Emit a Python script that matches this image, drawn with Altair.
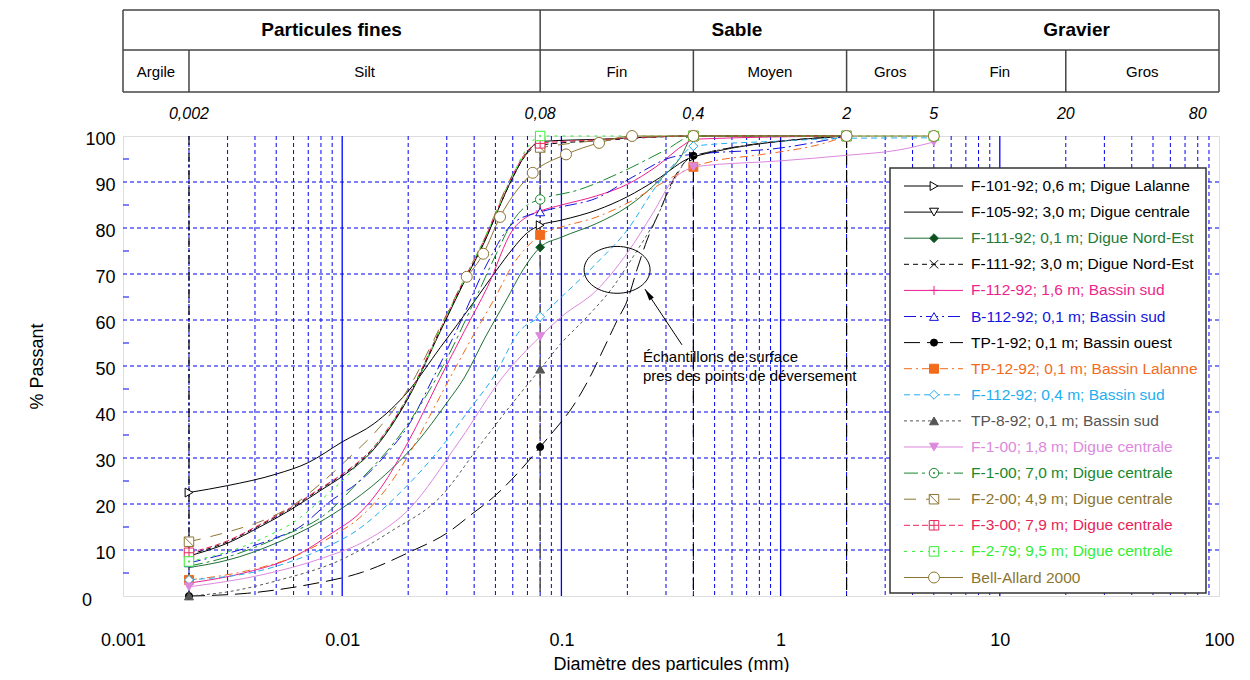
import altair as alt
import pandas as pd

W, H = 1096, 460
FONT = "Liberation Sans"

# ---------------- axes / grid values ----------------
X_TICKS = [0.001, 0.01, 0.1, 1, 10, 100]
Y_TICKS = [10, 20, 30, 40, 50, 60, 70, 80, 90, 100]
Y_ZERO = [0]
Y_MINOR = [5, 15, 25, 35, 45, 55, 65, 75, 85, 95]
GRID_Y = [10, 20, 30, 40, 50, 60, 70, 80, 90]
GRID_X_MAJOR = [0.01, 0.1, 1, 10]
GRID_X_MINOR = [round(k * 10 ** e, 6) for e in range(-3, 2) for k in range(2, 10)]
BOUNDS = [0.002, 0.08, 0.4, 2]

# ---------------- header table ----------------
HDR_TOP = ["Particules fines", "Sable", "Gravier"]
HDR_TOP_X = [0.00894, 0.632, 22.4]
HDR_SUB = ["Argile", "Silt", "Fin", "Moyen", "Gros", "Fin", "Gros"]
HDR_SUB_X = [0.001414, 0.01265, 0.179, 0.894, 3.16, 10.0, 44.7]
HDR_FULL_DIV = [0.001, 0.08, 5, 100]
HDR_SUB_DIV = [0.002, 0.4, 2, 20]
EDGE_X = [0.002, 0.08, 0.4, 2, 5, 20, 80]
EDGE_LABELS = ["0,002", "0,08", "0,4", "2", "5", "20", "80"]

# ---------------- series ----------------
NAMES = [
    "F-101-92; 0,6 m; Digue Lalanne",
    "F-105-92; 3,0 m; Digue centrale",
    "F-111-92; 0,1 m; Digue Nord-Est",
    "F-111-92; 3,0 m; Digue Nord-Est",
    "F-112-92; 1,6 m; Bassin sud",
    "B-112-92; 0,1 m; Bassin sud",
    "TP-1-92; 0,1 m; Bassin ouest",
    "TP-12-92; 0,1 m; Bassin Lalanne",
    "F-112-92; 0,4 m; Bassin sud",
    "TP-8-92; 0,1 m; Bassin sud",
    "F-1-00; 1,8 m; Digue centrale",
    "F-1-00; 7,0 m; Digue centrale",
    "F-2-00; 4,9 m; Digue centrale",
    "F-3-00; 7,9 m; Digue centrale",
    "F-2-79; 9,5 m; Digue centrale",
    "Bell-Allard 2000",
]

X1 = [0.002, 0.003, 0.005, 0.007, 0.01, 0.014, 0.02, 0.028, 0.04, 0.05, 0.06, 0.07, 0.08, 0.1, 0.145, 0.2, 0.27, 0.4, 2]
Y1 = [22.5, 24.0, 26.5, 29.0, 33.5, 37.5, 44.5, 54.0, 64.0, 70.5, 75.5, 79.0, 80.6, 81.7, 83.9, 86.8, 90.4, 95.5, 100]
M1 = [0.002, 0.08, 0.4, 2]

X2 = [0.002, 0.003, 0.0042, 0.0058, 0.008, 0.01, 0.014, 0.02, 0.028, 0.037, 0.045, 0.052, 0.06, 0.07, 0.08, 0.15, 0.4, 2]
Y2 = [8.7, 11.5, 15.0, 18.7, 23.0, 26.0, 32.0, 43.0, 57.5, 69.4, 77.4, 84.5, 91.0, 96.5, 98.8, 99.3, 100, 100]
M2 = [0.002, 0.08, 0.4, 2]

X3 = [0.002, 0.003, 0.005, 0.01, 0.015, 0.022, 0.03, 0.036, 0.045, 0.056, 0.067, 0.08, 0.1, 0.145, 0.2, 0.28, 0.35, 0.4, 2]
Y3 = [6.2, 7.8, 11.5, 19.1, 25.5, 33.5, 42.0, 47.4, 56.3, 64.3, 71.0, 75.8, 78.0, 81.0, 84.6, 90.4, 95.4, 100, 100]
M3 = [0.08, 0.4, 2]

X4 = [0.002, 0.003, 0.0042, 0.0058, 0.008, 0.01, 0.014, 0.02, 0.028, 0.037, 0.045, 0.052, 0.06, 0.07, 0.08, 0.15, 0.4, 2]
Y4 = [9.0, 11.8, 15.3, 19.0, 23.3, 26.3, 32.3, 43.3, 57.8, 69.6, 77.6, 84.5, 91.0, 96.3, 98.0, 99.0, 100, 100]
M4 = [0.002, 0.08, 0.4, 2]

X5 = [0.002, 0.0037, 0.006, 0.009, 0.012, 0.015, 0.02, 0.028, 0.036, 0.046, 0.06, 0.07, 0.08, 0.1, 0.145, 0.2, 0.27, 0.37, 0.4, 2]
Y5 = [2.8, 5.2, 8.5, 13.7, 18.0, 23.5, 33.5, 47.4, 57.5, 67.2, 79.6, 82.5, 83.7, 85.0, 87.0, 89.5, 93.3, 98.4, 99.3, 100]
M5 = [0.002, 0.08, 0.4, 2]

X6 = [0.002, 0.0026, 0.0047, 0.0063, 0.009, 0.0117, 0.016, 0.02, 0.026, 0.035, 0.046, 0.06, 0.08, 0.1, 0.145, 0.21, 0.32, 0.4, 1, 2]
Y6 = [7.2, 8.5, 12.2, 14.8, 20.9, 24.5, 31.0, 37.0, 47.4, 60.0, 72.4, 81.0, 83.5, 84.6, 86.5, 91.0, 95.4, 96.0, 97.4, 100]
M6 = [0.002, 0.08, 2]

X7 = [0.002, 0.0037, 0.0069, 0.0124, 0.0204, 0.0301, 0.0395, 0.049, 0.07, 0.08, 0.0916, 0.112, 0.135, 0.155, 0.18, 0.2, 0.221, 0.246, 0.282, 0.323, 0.374, 0.4, 2]
Y7 = [0, 0.6, 2.4, 5.2, 9.6, 13.7, 18.0, 21.5, 29.1, 32.4, 35.7, 41.0, 47.6, 53.5, 60.0, 64.3, 70.9, 77.4, 83.9, 90.4, 94.8, 95.7, 100]
M7 = [0.002, 0.08, 0.4, 2]

X8 = [0.002, 0.0037, 0.006, 0.009, 0.012, 0.016, 0.02, 0.025, 0.031, 0.04, 0.05, 0.06, 0.07, 0.08, 0.1, 0.145, 0.2, 0.27, 0.37, 0.4, 0.5, 0.8, 1.6, 2]
Y8 = [3.5, 5.5, 8.5, 13.0, 17.0, 23.5, 30.5, 39.0, 47.4, 57.0, 65.0, 72.0, 76.0, 78.5, 80.2, 82.4, 85.4, 89.0, 92.6, 93.3, 94.6, 95.9, 98.5, 100]
M8 = [0.002, 0.08, 0.4, 2]

X9 = [0.002, 0.0043, 0.0079, 0.0117, 0.017, 0.0288, 0.038, 0.049, 0.065, 0.08, 0.1, 0.145, 0.2, 0.27, 0.35, 0.4, 1, 2, 5]
Y9 = [3.5, 5.6, 10.0, 14.3, 20.9, 32.8, 40.5, 47.6, 57.8, 60.7, 65.0, 72.4, 79.6, 89.0, 95.4, 97.8, 98.9, 99.5, 99.6]
M9 = [0.002, 0.08, 0.4]

X10 = [0.002, 0.003, 0.0052, 0.0098, 0.017, 0.028, 0.0425, 0.06, 0.08, 0.1, 0.131, 0.172, 0.212, 0.273, 0.322, 0.374, 0.4, 2]
Y10 = [0, 0.9, 3.5, 7.8, 14.3, 21.5, 32.8, 42.0, 49.3, 55.0, 60.7, 67.2, 73.7, 82.4, 89.8, 94.8, 95.7, 100]
M10 = [0.002, 0.08, 2]

X11 = [0.002, 0.0043, 0.0082, 0.013, 0.02, 0.0345, 0.054, 0.08, 0.1, 0.145, 0.2, 0.262, 0.322, 0.386, 0.4, 1, 2, 3.5, 5]
Y11 = [2.0, 4.6, 8.3, 12.2, 18.7, 33.9, 47.6, 56.4, 60.7, 66.5, 74.6, 83.3, 90.4, 93.0, 93.3, 94.6, 95.8, 97.0, 98.7]
M11 = [0.002, 0.08, 0.4, 5]

X12 = [0.002, 0.003, 0.005, 0.0085, 0.0117, 0.019, 0.029, 0.04, 0.05, 0.06, 0.07, 0.08, 0.12, 0.185, 0.3, 0.4, 2]
Y12 = [6.5, 8.5, 12.5, 18.0, 24.5, 36.0, 50.2, 64.0, 74.0, 81.5, 85.0, 86.2, 88.3, 92.0, 97.0, 100, 100]
M12 = [0.08, 0.4, 2]

X13 = [0.002, 0.0032, 0.0044, 0.006, 0.008, 0.0105, 0.015, 0.02, 0.028, 0.037, 0.045, 0.055, 0.065, 0.08, 0.4, 2]
Y13 = [11.8, 14.3, 16.5, 19.8, 24.5, 29.6, 37.0, 45.0, 58.5, 70.0, 78.0, 88.0, 94.5, 97.5, 100, 100]
M13 = [0.002, 0.08, 0.4, 2]

X14 = [0.002, 0.003, 0.0042, 0.0058, 0.008, 0.01, 0.014, 0.02, 0.028, 0.037, 0.045, 0.052, 0.06, 0.07, 0.08, 0.15, 0.4, 2]
Y14 = [9.4, 12.0, 15.5, 19.2, 23.5, 26.5, 32.5, 43.5, 58.0, 70.0, 78.0, 85.0, 91.5, 96.8, 98.4, 99.2, 100, 100]
M14 = [0.002, 0.08, 0.4, 2]

X15 = [0.002, 0.0032, 0.0045, 0.0062, 0.0077, 0.0112, 0.016, 0.022, 0.03, 0.04, 0.05, 0.06, 0.07, 0.08, 0.4, 2, 5]
Y15 = [7.5, 10.0, 12.9, 16.5, 20.2, 27.4, 36.0, 47.0, 61.0, 73.0, 83.0, 91.5, 97.5, 100, 100, 100, 100]
M15 = [0.002, 0.08, 0.4, 2, 5]

X16 = [0.037, 0.044, 0.0525, 0.074, 0.105, 0.1485, 0.21, 0.4, 2, 5]
Y16 = [69.4, 74.4, 82.4, 92.0, 96.0, 98.5, 100, 100, 100, 100]
M16 = X16

SX = [X1, X2, X3, X4, X5, X6, X7, X8, X9, X10, X11, X12, X13, X14, X15, X16]
SY = [Y1, Y2, Y3, Y4, Y5, Y6, Y7, Y8, Y9, Y10, Y11, Y12, Y13, Y14, Y15, Y16]
SM = [M1, M2, M3, M4, M5, M6, M7, M8, M9, M10, M11, M12, M13, M14, M15, M16]

LINE_COLORS = ["#000000", "#000000", "#1f6f35", "#000000", "#ee1f8e", "#1414dc", "#000000", "#f26a1b",
               "#22aef0", "#555555", "#dd88dd", "#17882d", "#8c7632", "#e8245a", "#33ee33", "#8c7632"]
TEXT_COLORS = ["#000000", "#000000", "#1f7a36", "#000000", "#ee1f8e", "#1414dc", "#000000", "#f26a1b",
               "#22aef0", "#555555", "#dd88dd", "#17882d", "#8c7632", "#e8245a", "#33ee33", "#8c7632"]
MARKER_FILL = ["white", "white", "#0d4d1f", "white", "white", "white", "#000000", "#f26a1b",
               "white", "#555555", "#dd88dd", "white", "white", "white", "white", "white"]
DASHES = [[], [], [], [5, 4], [], [12, 4, 2, 4], [16, 7], [8, 4, 2, 4],
          [6, 4], [3, 3], [], [14, 4, 3, 4], [12, 10], [6, 3], [3, 5], []]

SQ = "M-1,-1H1V1H-1Z"
SHAPES = [
    "triangle-right", "triangle-down", "diamond", "M-1,-1L1,1M-1,1L1,-1",
    "M0,-1V1M-1,0H1", "triangle-up", "circle", "square",
    "diamond", "triangle-up", "triangle-down",
    "M-1,0A1,1 0 1,0 1,0A1,1 0 1,0 -1,0Z M-0.15,0A0.15,0.15 0 1,0 0.15,0A0.15,0.15 0 1,0 -0.15,0Z",
    SQ + " M-1,-1L1,1", SQ + " M0,-1V1 M-1,0H1", SQ + " M-0.12,-0.12H0.12V0.12H-0.12Z", "circle",
]
SIZES = [80, 80, 80, 70, 80, 80, 50, 80, 80, 80, 80, 90, 90, 90, 90, 120]

# ---------------- annotation ----------------
ELL_X, ELL_Y = [0.1795], [70.9]
ARROW_X, ARROW_Y, ARROW_X2, ARROW_Y2 = [0.3548], [54.6], [0.2405], [66.7]
HEAD_X, HEAD_Y = [0.249], [65.65]
NOTE_X = [0.2355, 0.2355]
NOTE_Y = [52.0, 47.8]
NOTE_TXT = ["Échantillons de surface", "pres des points de déversement"]

# ---------------- scales / axes ----------------
XS = alt.Scale(type="log", domain=[0.001, 100], nice=False)
YS = alt.Scale(domain=[0, 100], nice=False)
AX = alt.Axis(values=X_TICKS, format="~g", grid=False, ticks=False, domain=False,
              labelFont=FONT, labelFontSize=18, labelPadding=35, labelColor="black", labelFlush=False,
              title="Diamètre des particules (mm)", titleFont=FONT, titleFontSize=18,
              titleFontWeight="normal", titleColor="black", titlePadding=6)
AY = alt.Axis(values=Y_TICKS, grid=False, ticks=False, domain=False, labelOffset=3,
              labelFont=FONT, labelFontSize=18, labelPadding=8, labelColor="black", labelFlush=False,
              title="% Passant", titleFont=FONT, titleFontSize=18, titleFontWeight="normal",
              titleColor="black", titlePadding=38)


def xe(f="x"):
    return alt.X(f"{f}:Q", scale=XS, axis=AX)


def ye(f="y"):
    return alt.Y(f"{f}:Q", scale=YS, axis=AY)


def px(f):
    return alt.X(f"{f}:Q", scale=None)


def py(f):
    return alt.Y(f"{f}:Q", scale=None)


layers = []

# grid
layers.append(alt.Chart(pd.DataFrame({"y": GRID_Y})).mark_rule(
    color="#0000ee", strokeDash=[4, 3], strokeWidth=1).encode(y=ye()))
layers.append(alt.Chart(pd.DataFrame({"x": GRID_X_MINOR})).mark_rule(
    color="#0000ee", strokeDash=[4, 3], strokeWidth=1).encode(x=xe()))
layers.append(alt.Chart(pd.DataFrame({"x": GRID_X_MAJOR})).mark_rule(
    color="#0000ff", strokeWidth=1.3).encode(x=xe()))
layers.append(alt.Chart(pd.DataFrame({"y": Y_MINOR})).mark_rule(
    color="#0000ff", strokeWidth=1).encode(y=ye(), x=alt.value(0), x2=alt.value(6)))
# the "0" label of the y axis sits further left in the reference
layers.append(alt.Chart(pd.DataFrame({"y": Y_ZERO, "t": ["0"]})).mark_text(
    font=FONT, fontSize=18, color="black", align="center", baseline="middle", dy=5).encode(
    y=ye(), x=alt.value(-36), text="t:N"))
# class boundaries
layers.append(alt.Chart(pd.DataFrame({"x": BOUNDS[:1]})).mark_rule(
    color="#000000", strokeDash=[9, 3, 2, 3], strokeWidth=1.2).encode(x=xe()))
layers.append(alt.Chart(pd.DataFrame({"x": BOUNDS[1:2]})).mark_rule(
    color="#555555", strokeDash=[14, 3], strokeWidth=1.5).encode(x=xe()))
layers.append(alt.Chart(pd.DataFrame({"x": BOUNDS[2:]})).mark_rule(
    color="#000000", strokeDash=[12, 5], strokeWidth=1.2).encode(x=xe()))

# series
for i in range(16):
    df = pd.DataFrame({"x": SX[i], "y": SY[i]})
    lkw = dict(color=LINE_COLORS[i], strokeWidth=1, interpolate="monotone")
    if DASHES[i]:
        lkw["strokeDash"] = DASHES[i]
    layers.append(alt.Chart(df).mark_line(**lkw).encode(x=xe(), y=ye()))
    mdf = df[df["x"].isin(SM[i])]
    layers.append(alt.Chart(mdf).mark_point(
        shape=SHAPES[i], size=SIZES[i], filled=True, fill=MARKER_FILL[i],
        stroke=LINE_COLORS[i], strokeWidth=1, opacity=1).encode(x=xe(), y=ye()))

# annotation
layers.append(alt.Chart(pd.DataFrame({"x": ELL_X, "y": ELL_Y})).mark_point(
    shape="M-1,0A1,0.71 0 1,1 1,0A1,0.71 0 1,1 -1,0Z", size=4356, filled=False,
    stroke="black", strokeWidth=1, opacity=1).encode(x=xe(), y=ye()))
layers.append(alt.Chart(pd.DataFrame({"x": ARROW_X, "y": ARROW_Y, "x2": ARROW_X2, "y2": ARROW_Y2})).mark_rule(
    color="black", strokeWidth=1).encode(x=xe(), y=ye(), x2="x2:Q", y2="y2:Q"))
layers.append(alt.Chart(pd.DataFrame({"x": HEAD_X, "y": HEAD_Y})).mark_point(
    shape="M0,-1L0.45,1L-0.45,1Z", size=144, filled=True, color="black", angle=326, opacity=1).encode(x=xe(), y=ye()))
layers.append(alt.Chart(pd.DataFrame({"x": NOTE_X, "y": NOTE_Y, "t": NOTE_TXT})).mark_text(
    align="left", baseline="middle", font=FONT, fontSize=15, color="black").encode(x=xe(), y=ye(), text="t:N"))

# header table
layers.append(alt.Chart(pd.DataFrame({"x": [0.001] * 3, "x2": [100] * 3, "py": [-126, -86, -44]})).mark_rule(
    color="#444444", strokeWidth=1.5).encode(x=xe(), x2="x2:Q", y=py("py")))
layers.append(alt.Chart(pd.DataFrame({"x": HDR_FULL_DIV, "py": [-126] * 4, "py2": [-44] * 4})).mark_rule(
    color="#444444", strokeWidth=1.5).encode(x=xe(), y=py("py"), y2="py2:Q"))
layers.append(alt.Chart(pd.DataFrame({"x": HDR_SUB_DIV, "py": [-86] * 4, "py2": [-44] * 4})).mark_rule(
    color="#444444", strokeWidth=1.5).encode(x=xe(), y=py("py"), y2="py2:Q"))
layers.append(alt.Chart(pd.DataFrame({"x": HDR_TOP_X, "py": [-106] * 3, "t": HDR_TOP})).mark_text(
    font=FONT, fontSize=19, fontWeight="bold", color="black", baseline="middle").encode(
    x=xe(), y=py("py"), text="t:N"))
layers.append(alt.Chart(pd.DataFrame({"x": HDR_SUB_X, "py": [-64] * 7, "t": HDR_SUB})).mark_text(
    font=FONT, fontSize=15, color="black", baseline="middle").encode(x=xe(), y=py("py"), text="t:N"))
layers.append(alt.Chart(pd.DataFrame({"x": EDGE_X, "py": [-22] * 7, "t": EDGE_LABELS})).mark_text(
    font=FONT, fontSize=16, fontStyle="italic", color="black", baseline="middle").encode(
    x=xe(), y=py("py"), text="t:N"))

# legend
layers.append(alt.Chart(pd.DataFrame({"a": [767], "b": [1083], "c": [32], "d": [457]})).mark_rect(
    fill="white", stroke="#333333", strokeWidth=1.5).encode(x=px("a"), x2="b:Q", y=py("c"), y2="d:Q"))
for i in range(16):
    ly = 50 + 26.1 * i
    ldf = pd.DataFrame({"a": [781], "b": [840], "m": [811], "t": [848], "ly": [ly], "lab": [NAMES[i]]})
    rkw = dict(color=LINE_COLORS[i], strokeWidth=1)
    if DASHES[i]:
        rkw["strokeDash"] = DASHES[i]
    layers.append(alt.Chart(ldf).mark_rule(**rkw).encode(x=px("a"), x2="b:Q", y=py("ly")))
    layers.append(alt.Chart(ldf).mark_point(
        shape=SHAPES[i], size=SIZES[i], filled=True, fill=MARKER_FILL[i],
        stroke=LINE_COLORS[i], strokeWidth=1, opacity=1).encode(x=px("m"), y=py("ly")))
    layers.append(alt.Chart(ldf).mark_text(
        align="left", baseline="middle", font=FONT, fontSize=15.5, color=TEXT_COLORS[i]).encode(
        x=px("t"), y=py("ly"), text="lab:N"))

chart = alt.layer(*layers).properties(
    width=W, height=H,
    autosize=alt.AutoSizeParams(type="none"),
    padding={"left": 115, "top": 128, "right": 23, "bottom": 76},
).configure_view(stroke="#0000ff", strokeWidth=1.5).configure(background="white")

chart.save("out.html", embed_options={"renderer": "svg", "actions": False})
